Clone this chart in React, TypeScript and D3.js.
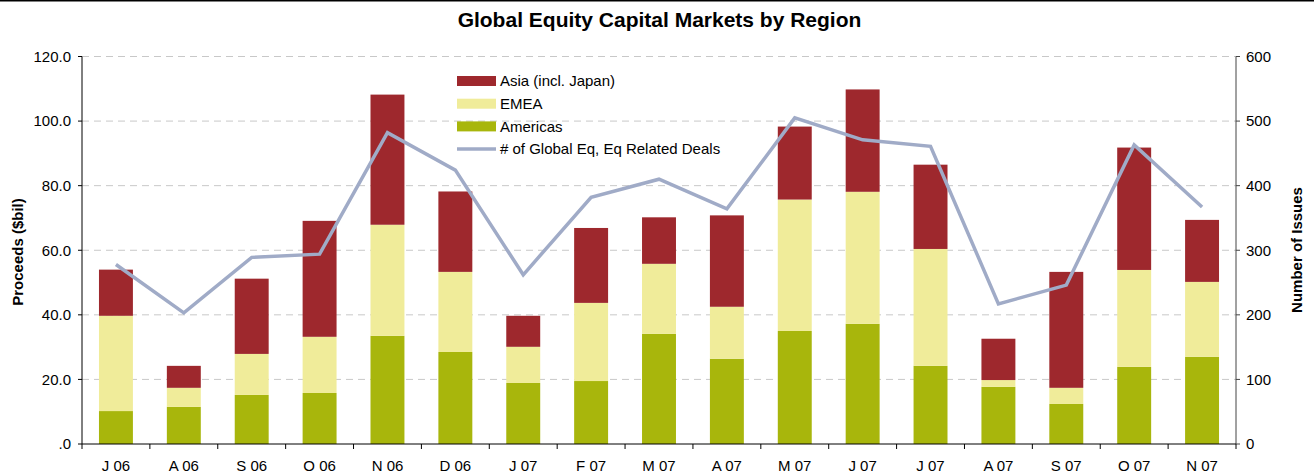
import * as d3 from "d3";

const months = ["J 06", "A 06", "S 06", "O 06", "N 06", "D 06", "J 07", "F 07", "M 07", "A 07", "M 07", "J 07", "J 07", "A 07", "S 07", "O 07", "N 07"];
// segment values ($bil)
const americas = [10.2, 11.5, 15.2, 15.8, 33.5, 28.5, 18.9, 19.5, 34.1, 26.4, 35.0, 37.2, 24.2, 17.7, 12.4, 23.9, 27.0];
const emea = [29.5, 5.9, 12.7, 17.4, 34.4, 24.8, 11.2, 24.2, 21.7, 16.1, 40.7, 40.9, 36.2, 2.1, 5.0, 30.0, 23.2];
const asia = [14.3, 6.8, 23.3, 35.9, 40.3, 24.9, 9.6, 23.2, 14.4, 28.3, 22.6, 31.7, 26.1, 12.8, 35.9, 37.9, 19.2];
const deals = [278, 203, 289, 294, 482, 424, 262, 382, 410, 364, 505, 471, 461, 217, 246, 463, 367];
const leftTicks = [0, 20, 40, 60, 80, 100, 120];
const rightTicks = [0, 100, 200, 300, 400, 500, 600];

const seriesNames = ["Americas", "EMEA", "Asia (incl. Japan)"];
const colors = ["#a8b60c", "#f0ec9a", "#9e282d"];
const lineColor = "#a0abc7";

const W = 1314, H = 476;
const left = 82, right = 1236, top = 56.5, bottom = 444;
const font = "'Liberation Sans', Arial, sans-serif";

export default function App() {
  const x = d3.scaleBand<number>().domain(d3.range(months.length)).range([left, right]).paddingInner(0.5).paddingOuter(0.25);
  const band = d3.scaleBand<number>().domain(d3.range(months.length)).range([left, right]);
  const y = d3.scaleLinear().domain([0, 120]).range([bottom, top]);
  const y2 = d3.scaleLinear().domain([0, 600]).range([bottom, top]);

  const rows = months.map((m, i) => ({ i, Americas: americas[i], EMEA: emea[i], "Asia (incl. Japan)": asia[i] }));
  const stack = d3.stack<any>().keys(seriesNames)(rows);

  const line = d3.line<number>()
    .x((d, i) => (band(i) as number) + band.bandwidth() / 2)
    .y((d) => y2(d));

  const fmt = (v: number) => (v === 0 ? ".0" : v.toFixed(1));

  const legendItems = [
    { name: "Asia (incl. Japan)", color: colors[2], kind: "rect" },
    { name: "EMEA", color: colors[1], kind: "rect" },
    { name: "Americas", color: colors[0], kind: "rect" },
    { name: "# of Global Eq, Eq Related Deals", color: lineColor, kind: "line" },
  ];

  return (
    <svg width={W} height={H} style={{ position: "absolute", left: 0, top: 0, fontFamily: font }}>
      <rect x={0} y={0} width={W} height={H} fill="#fff" />
      <line x1={0} x2={W} y1={0.75} y2={0.75} stroke="#000" strokeWidth={1.5} />
      <text x={659.5} y={27} textAnchor="middle" fontSize={21} fontWeight="bold">
        Global Equity Capital Markets by Region
      </text>

      {/* gridlines */}
      {leftTicks.filter((t) => t > 0).map((t) => (
        <line key={t} x1={left} x2={right} y1={y(t)} y2={y(t)} stroke="#c8c8c8" strokeDasharray="7,5" />
      ))}

      {/* bars */}
      {stack.map((s, k) => (
        <g key={seriesNames[k]} fill={colors[k]}>
          {s.map((d, i) => (
            <rect key={i} x={x(i)} width={x.bandwidth()} y={y(d[1])} height={y(d[0]) - y(d[1])} />
          ))}
        </g>
      ))}

      {/* line */}
      <path d={line(deals) || ""} fill="none" stroke={lineColor} strokeWidth={3.5} strokeLinejoin="miter" />

      {/* left axis */}
      <line x1={left} x2={left} y1={top} y2={bottom} stroke="#000" />
      {leftTicks.map((t) => (
        <g key={t}>
          <line x1={left - 4} x2={left} y1={y(t)} y2={y(t)} stroke="#000" />
          <text x={left - 11} y={y(t)} dy="0.35em" textAnchor="end" fontSize={15}>{fmt(t)}</text>
        </g>
      ))}
      <text transform={`translate(23,252) rotate(-90)`} textAnchor="middle" fontSize={15} fontWeight="bold">
        Proceeds ($bil)
      </text>

      {/* right axis */}
      <line x1={right} x2={right} y1={top} y2={bottom} stroke="#444" />
      {rightTicks.map((t) => (
        <g key={t}>
          <line x1={right} x2={right + 4} y1={y2(t)} y2={y2(t)} stroke="#444" />
          <text x={right + 10} y={y2(t)} dy="0.35em" textAnchor="start" fontSize={15}>{t}</text>
        </g>
      ))}
      <text transform={`translate(1302,250) rotate(-90)`} textAnchor="middle" fontSize={15} fontWeight="bold">
        Number of Issues
      </text>

      {/* x axis */}
      <line x1={left} x2={right} y1={bottom} y2={bottom} stroke="#000" />
      {d3.range(months.length + 1).map((i) => {
        const bx = i < months.length ? (band(i) as number) : right;
        return <line key={i} x1={bx} x2={bx} y1={bottom} y2={bottom + 5} stroke="#000" />;
      })}
      {months.map((m, i) => (
        <text key={i} x={(band(i) as number) + band.bandwidth() / 2} y={471} textAnchor="middle" fontSize={15}>{m}</text>
      ))}

      {/* legend */}
      {legendItems.map((it, i) => {
        const ly = 81 + i * 22.7;
        return (
          <g key={it.name}>
            {it.kind === "rect" ? (
              <rect x={457} y={ly - 5} width={39} height={10} fill={it.color} />
            ) : (
              <line x1={457} x2={496} y1={ly} y2={ly} stroke={it.color} strokeWidth={3.5} />
            )}
            <text x={500} y={ly} dy="0.35em" fontSize={15}>{it.name}</text>
          </g>
        );
      })}
    </svg>
  );
}
